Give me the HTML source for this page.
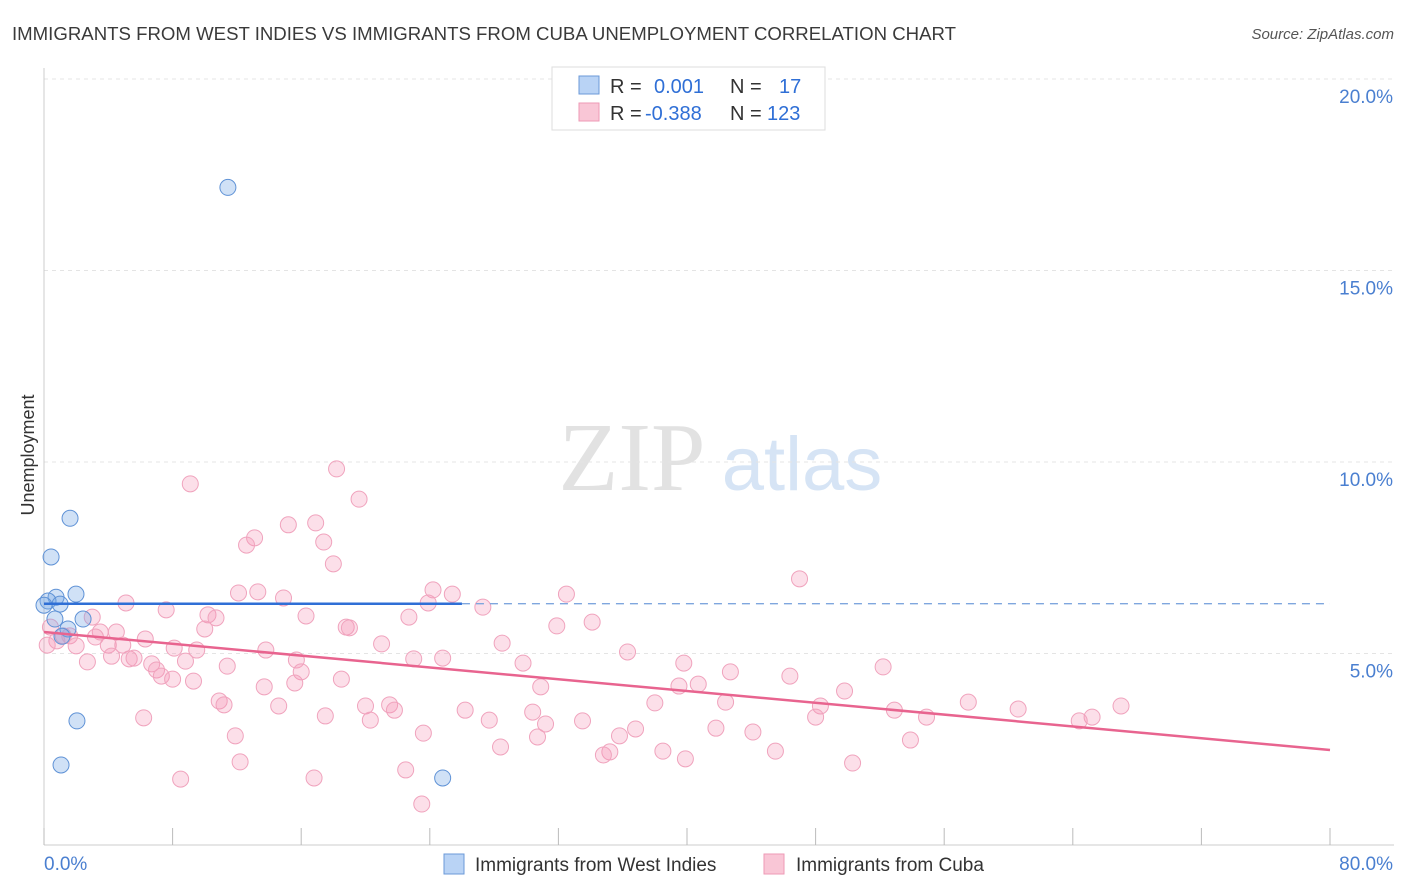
<!DOCTYPE html>
<html><head><meta charset="utf-8"><style>
body{margin:0;background:#fff;font-family:"Liberation Sans",sans-serif}
svg{display:block}
</style></head><body>
<svg id="c" width="1406" height="892" xmlns="http://www.w3.org/2000/svg">
<text x="12" y="40" font-size="18" fill="#3a3a3a" textLength="944" lengthAdjust="spacingAndGlyphs">IMMIGRANTS FROM WEST INDIES VS IMMIGRANTS FROM CUBA UNEMPLOYMENT CORRELATION CHART</text>
<text x="1394" y="39" font-size="15" fill="#555" text-anchor="end" font-style="italic">Source: ZipAtlas.com</text>
<g>
<text x="632" y="490" font-size="98" fill="#e2e2e2" text-anchor="middle" font-family="Liberation Serif,serif">ZIP</text>
<text x="802" y="490" font-size="76" fill="#d6e4f5" text-anchor="middle">atlas</text>
</g>
<g id="grid"></g>
<g id="axes"></g>
<g id="pts"></g>
<g id="lines"></g>
<text transform="translate(34,455) rotate(-90)" font-size="18" fill="#333" text-anchor="middle">Unemployment</text>
<g>
<rect x="552" y="67" width="273" height="63" fill="#fff" stroke="#ddd"/>
<rect x="579" y="76" width="20" height="18" fill="#b9d3f5" stroke="#6b9ad8"/>
<rect x="579" y="103" width="20" height="18" fill="#f9c6d6" stroke="#ee9ab6"/>
<text x="610" y="93" font-size="20" fill="#333">R = <tspan fill="#2f6fd6" x="654">0.001</tspan><tspan fill="#333" x="730">N =</tspan><tspan fill="#2f6fd6" x="779">17</tspan></text>
<text x="610" y="120" font-size="20" fill="#333">R = <tspan fill="#2f6fd6" x="645">-0.388</tspan><tspan fill="#333" x="730">N =</tspan><tspan fill="#2f6fd6" x="767">123</tspan></text>
</g>
<g>
<rect x="444" y="854" width="20" height="20" fill="#b9d3f5" stroke="#6b9ad8"/>
<text x="475" y="871" font-size="19" fill="#333">Immigrants from West Indies</text>
<rect x="764" y="854" width="20" height="20" fill="#f9c6d6" stroke="#ee9ab6"/>
<text x="796" y="871" font-size="19" fill="#333">Immigrants from Cuba</text>
</g>
</svg>
<script>
const yTicks=[5,10,15,20];
const yTickLabels=["5.0%","10.0%","15.0%","20.0%"];
const xTickCount=10;
const blueX=[11.44,1.62,0.44,1.99,0.75,0.25,1.0,0.0,2.43,0.68,1.49,1.12,2.05,1.06,24.8];
const blueY=[17.17,8.53,7.52,6.55,6.47,6.37,6.29,6.26,5.9,5.9,5.64,5.45,3.24,2.09,1.75];
const pinkX=[18.2,9.1,19.6,16.9,15.2,13.1,12.6,17.4,18.0,47.0,24.2,12.1,13.3,14.9,25.4,32.5,5.1,23.9,27.3,7.6,10.2,16.3,10.7,3.0,22.7,34.1,31.9,10.0,18.8,19.0,0.4,3.5,4.5,1.2,1.6,3.2,6.3,0.8,0.2,2.0,4.0,4.9,21.0,28.5,8.1,9.5,13.8,36.3,4.2,5.3,5.6,8.8,15.7,23.0,24.8,29.8,39.8,6.7,2.7,11.4,16.0,7.0,52.2,42.7,7.3,8.0,9.3,46.4,18.5,15.6,13.7,40.7,39.5,30.9,49.8,38.0,42.4,10.9,11.2,14.6,57.5,20.0,21.5,21.8,48.3,52.9,60.6,67.0,26.2,30.4,48.0,6.2,17.5,54.9,20.3,27.7,33.5,65.2,64.4,31.2,41.8,36.8,23.6,11.9,44.1,30.7,35.8,53.9,28.4,38.5,45.5,35.2,34.8,39.9,12.2,50.3,22.5,8.5,16.8,23.5];
const pinkY=[9.82,9.43,9.03,8.41,8.36,8.02,7.83,7.91,7.34,6.95,6.66,6.58,6.61,6.45,6.55,6.55,6.32,6.32,6.21,6.14,6.01,5.98,5.93,5.95,5.95,5.82,5.72,5.64,5.69,5.67,5.69,5.56,5.56,5.46,5.46,5.43,5.38,5.33,5.22,5.2,5.22,5.22,5.25,5.27,5.14,5.09,5.09,5.04,4.93,4.86,4.88,4.8,4.83,4.86,4.88,4.75,4.75,4.73,4.78,4.67,4.52,4.57,4.65,4.52,4.41,4.33,4.28,4.41,4.33,4.23,4.13,4.2,4.15,4.13,4.02,3.71,3.73,3.76,3.66,3.63,3.73,3.63,3.66,3.52,3.63,3.52,3.55,3.63,3.52,3.47,3.34,3.32,3.37,3.34,3.26,3.26,3.24,3.34,3.24,3.16,3.05,3.03,2.92,2.85,2.95,2.82,2.85,2.74,2.56,2.45,2.45,2.43,2.35,2.25,2.17,2.14,1.96,1.72,1.75,1.07];
const blueTrendX=[0,80];const blueTrendY=[6.3,6.3];const blueSolidEnd=26;
const pinkTrendX=[0,80];const pinkTrendY=[5.56,2.48];
const NS="http://www.w3.org/2000/svg";
const X=v=>44+v/80*1286, Y=v=>845-v*38.3;
function mk(p,t,a){const e=document.createElementNS(NS,t);for(const k in a)e.setAttribute(k,a[k]);document.getElementById(p).appendChild(e);return e;}
yTicks.forEach((t,i)=>{
 const g=mk('grid','line',{x1:44,x2:1394,y1:Y(t),y2:Y(t),stroke:'#e4e4e4','stroke-dasharray':'4,4'});
 
 
 const l=mk('axes','text',{x:1393,y:Y(t)+24,'text-anchor':'end','font-size':19,fill:'#4a7fd0'});
 l.textContent=yTickLabels[i];
 
 
});
const ax=mk('axes','line',{x1:44,x2:44,y1:68,y2:845,stroke:'#ccc'});


const bx=mk('axes','line',{x1:44,x2:1394,y1:845,y2:845,stroke:'#ccc'});


for(let i=0;i<=xTickCount;i++){const t=mk('axes','line',{x1:X(i*8),x2:X(i*8),y1:828,y2:845,stroke:'#bbb'});
 
 }
const x0=mk('axes','text',{x:44,y:870,'font-size':19,fill:'#4a7fd0'});x0.textContent='0.0%';


const x1=mk('axes','text',{x:1393,y:870,'font-size':19,fill:'#4a7fd0','text-anchor':'end'});x1.textContent='80.0%';


pinkX.forEach((v,i)=>{const c=mk('pts','circle',{cx:X(v),cy:Y(pinkY[i]),r:8,fill:'rgba(244,150,182,0.3)',stroke:'#f0a3bd','stroke-width':1});
 
 });
blueX.forEach((v,i)=>{const c=mk('pts','circle',{cx:X(v),cy:Y(blueY[i]),r:8,fill:'rgba(120,170,230,0.35)',stroke:'#5f92d6','stroke-width':1});
 
 });
const bs=mk('lines','line',{x1:X(blueTrendX[0]),y1:Y(blueTrendY[0]),x2:X(blueSolidEnd),y2:Y(blueTrendY[0]),stroke:'#2f6fd6','stroke-width':2.5});


const bd=mk('lines','line',{x1:X(blueSolidEnd),y1:Y(blueTrendY[0]),x2:X(blueTrendX[1]),y2:Y(blueTrendY[1]),stroke:'#7fa6de','stroke-width':1.3,'stroke-dasharray':'8,6'});


const pl=mk('lines','line',{x1:X(pinkTrendX[0]),y1:Y(pinkTrendY[0]),x2:X(pinkTrendX[1]),y2:Y(pinkTrendY[1]),stroke:'#e8648f','stroke-width':2.5});


</script>
</body></html>
